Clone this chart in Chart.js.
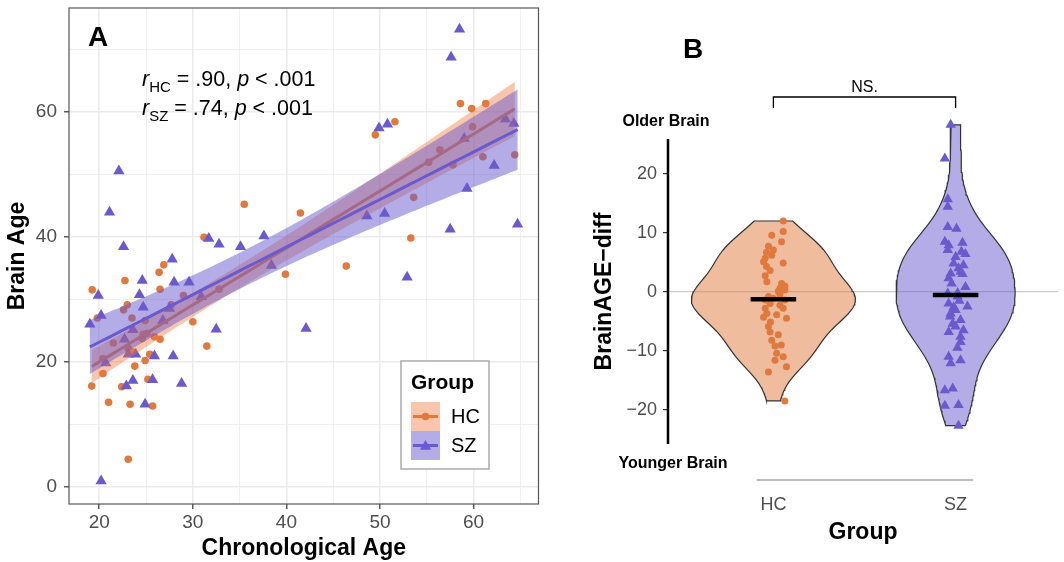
<!DOCTYPE html>
<html>
<head>
<meta charset="utf-8">
<script src="https://cdn.jsdelivr.net/npm/chart.js@4.4.1/dist/chart.umd.min.js"></script>
<style>
  html, body { margin: 0; padding: 0; background: #fff; }
  #wrap { position: relative; width: 1064px; height: 562px; }
  #boxA { position: absolute; left: 0; top: 0; }
  #boxB { position: absolute; left: 545px; top: 0; }
</style>
</head>
<body>
<div id="wrap">
  <div id="boxA"><canvas id="chartA" width="545" height="562"></canvas></div>
  <div id="boxB"><canvas id="chartB" width="519" height="562"></canvas></div>
</div>
<script>
// ---- data ----
const groups = ["HC", "SZ"];

// panel A: chronological age vs brain age
const hcAge = [19.25, 22.75, 26.9, 26.4, 26.5, 19.8, 23.0, 22.6, 23.5, 21.5, 30.0, 31.5, 26.5, 25.9, 24.6, 25.4, 24.9, 23.8, 20.4, 19.2,
  22.4, 25.2, 21.0, 23.3, 25.7, 23.1, 39.9, 46.4, 20.4, 29.0, 27.7, 32.8, 24.9, 23.1, 23.5, 35.5, 41.5, 31.2, 58.6, 59.8,
  61.3, 51.6, 49.5, 59.9, 56.4, 55.2, 57.8, 61.0, 64.4, 53.6, 53.3, 24.7, 25.1];
const hcBrainAge = [31.5, 33.0, 35.5, 34.3, 31.6, 27.0, 29.1, 28.3, 27.0, 23.0, 26.4, 22.5, 23.6, 24.0, 23.7, 21.2, 20.2, 19.3, 18.1, 16.1,
  16.0, 17.2, 13.5, 13.2, 12.9, 4.4, 34.0, 35.3, 20.5, 30.6, 29.1, 31.6, 26.6, 22.1, 21.6, 45.2, 43.8, 39.9, 61.3, 60.5,
  61.3, 58.4, 56.3, 57.6, 53.9, 51.9, 51.5, 52.8, 53.1, 46.3, 39.8, 24.4, 24.5];
const szAge = [22.1, 21.1, 22.6, 27.8, 31.7, 32.8, 35.1, 37.6, 38.4, 58.5, 57.6, 49.9, 50.8, 59.0, 63.4, 64.3, 62.2, 59.3, 48.6, 50.5,
  57.5, 64.7, 52.9, 19.9, 24.6, 28.0, 29.6, 24.3, 24.7, 19.0, 20.2, 32.5, 42.1, 23.1, 23.9, 25.9, 27.9, 20.7, 22.9, 23.6,
  25.7, 28.8, 24.9, 20.2, 23.6, 22.7, 26.8, 30.9, 27.5];
const szBrainAge = [50.5, 43.9, 38.4, 36.4, 39.7, 38.8, 38.4, 40.1, 35.4, 73.2, 68.7, 57.4, 58.0, 55.7, 58.8, 58.1, 51.4, 47.7, 43.3, 43.7,
  41.2, 42.0, 33.5, 30.6, 33.0, 32.7, 32.7, 30.7, 28.7, 26.0, 27.4, 25.2, 25.3, 21.2, 21.2, 20.9, 20.9, 19.8, 16.1, 17.0,
  17.1, 16.5, 13.2, 0.9, 25.1, 23.6, 26.6, 30.4, 28.5];

// panel B: BrainAGE-diff per group, with the horizontal jitter seen in the figure
const hcDiff = [12.0, 10.2, 9.6, 8.5, 7.7, 7.1, 6.2, 5.7, 5.1, 4.9, 3.6, 2.7, 1.7, 1.4, 1.0, 0.6, 0.3, -0.4, -0.8, -1.4,
  -1.4, -2.0, -2.3, -2.8, -2.8, -3.7, -3.9, -4.5, -4.3, -5.9, -6.8, -7.3, -8.2, -9.2, -10.4, -11.0, -11.6, -12.7, -13.6, -18.5,
  4.3, 0.1, -1.1, 6.7, -5.1, -9.0];
const hcJitter = [0.054, 0.054, -0.009, 0.045, -0.027, 0, -0.009, -0.045, -0.054, 0.054, -0.018, -0.045, -0.036, 0.045, 0.063, 0.036, 0.063, 0.036, -0.027, -0.045,
  0.063, -0.018, 0.036, -0.045, 0.054, -0.036, 0.018, 0.072, -0.054, -0.027, -0.018, 0.027, -0.009, 0.009, 0.018, 0.054, 0.009, 0.072, -0.027, 0.063,
  -0.038, 0.027, 0, -0.038, -0.016, 0.043];
const szDiff = [28.3, 22.6, 15.7, 14.4, 11.0, 10.7, 8.5, 8.3, 7.9, 7.1, 6.8, 6.4, 5.9, 4.8, 4.5, 4.0, 3.4, 3.1, 3.0, 2.3,
  1.4, 0.8, -0.2, -0.3, -0.8, -2.0, -2.5, -2.6, -3.1, -3.7, -4.8, -5.4, -5.9, -6.5, -6.8, -7.6, -8.5, -11.0, -11.6, -12.1,
  -16.7, -16.4, -19.3, -19.2, -22.7, -1.5, -4.2, -9.5];
const szJitter = [-0.027, -0.059, -0.043, -0.043, -0.043, 0.005, -0.059, 0.038, -0.038, -0.043, 0.032, 0.054, 0, -0.011, 0.043, 0.016, 0.027, -0.027, 0.038, -0.038,
  -0.022, 0.054, 0.011, -0.043, 0.011, -0.038, 0.065, -0.011, 0, -0.027, 0.027, -0.016, 0, 0.043, -0.038, 0.027, 0.027, -0.038, 0.027, -0.027,
  -0.059, -0.016, -0.059, 0.016, 0.016, 0.02, -0.03, 0.01];

// ticks / ranges
const xMajorA = [20, 30, 40, 50, 60];
const xMinorA = [25, 35, 45, 55, 65];
const yMajorA = [0, 20, 40, 60];
const yMinorA = [10, 30, 50, 70];
const yTicksB = [-20, -10, 0, 10, 20];
const yAxisLineB = [-25.8, 25.9];   // extent of the drawn y axis line in panel B
const yRangeB = [-25.8, 29.0];      // plotting range (violin of SZ pokes above the axis line)

const HC_COL = "#E0793E";
const SZ_COL = "#6A5ACD";
const FONT = '"Liberation Sans", Arial, Helvetica, sans-serif';
Chart.defaults.font.family = FONT;

// ---- helpers ----
const mean = a => a.reduce((s, v) => s + v, 0) / a.length;

function tQuant(df) {
  const z = 1.959964;
  return z + (z ** 3 + z) / (4 * df) + (5 * z ** 5 + 16 * z ** 3 + 3 * z) / (96 * df * df);
}

// linear fit with 95% confidence band (like geom_smooth(method = "lm"))
function lmFit(xs, ys) {
  const n = xs.length, mx = mean(xs), my = mean(ys);
  let sxx = 0, sxy = 0;
  xs.forEach((x, i) => { sxx += (x - mx) ** 2; sxy += (x - mx) * (ys[i] - my); });
  const b = sxy / sxx, a = my - b * mx;
  let sse = 0;
  xs.forEach((x, i) => { sse += (ys[i] - a - b * x) ** 2; });
  const s = Math.sqrt(sse / (n - 2)), t = tQuant(n - 2);
  const lo = Math.min(...xs), hi = Math.max(...xs);
  const line = [], upper = [], lower = [];
  for (let i = 0; i <= 80; i++) {
    const x = lo + (hi - lo) * i / 80, y = a + b * x;
    const se = s * Math.sqrt(1 / n + (x - mx) ** 2 / sxx);
    line.push({x, y});
    upper.push({x, y: y + t * se});
    lower.push({x, y: y - t * se});
  }
  return {line, band: upper.concat(lower.reverse())};
}

function quantile(sorted, p) {
  const h = (sorted.length - 1) * p, lo = Math.floor(h);
  return sorted[lo] + (h - lo) * ((sorted[lo + 1] ?? sorted[lo]) - sorted[lo]);
}

// gaussian kde, trimmed to the data range (like geom_violin)
function kde(vals) {
  const n = vals.length, m = mean(vals);
  const sd = Math.sqrt(vals.reduce((s, v) => s + (v - m) ** 2, 0) / (n - 1));
  const sorted = [...vals].sort((p, q) => p - q);
  const iqr = quantile(sorted, 0.75) - quantile(sorted, 0.25);
  const bw = 0.9 * Math.min(sd, iqr / 1.34) * Math.pow(n, -0.2);
  const lo = sorted[0], hi = sorted[n - 1], pts = [];
  for (let i = 0; i <= 120; i++) {
    const y = lo + (hi - lo) * i / 120;
    let d = 0;
    vals.forEach(v => { d += Math.exp(-0.5 * ((y - v) / bw) ** 2); });
    pts.push({y, d: d / (n * bw * Math.sqrt(2 * Math.PI))});
  }
  return {pts, median: quantile(sorted, 0.5)};
}

function violinShape(k, center, scale) {
  const right = k.pts.map(p => ({x: center + p.d * scale, y: p.y}));
  const left = k.pts.map(p => ({x: center - p.d * scale, y: p.y})).reverse();
  const shape = right.concat(left);
  shape.push(right[0]);
  return shape;
}

// keep the plot area exactly where the layout puts it
function fixPad(s) {
  s.paddingTop = 0; s.paddingBottom = 0; s.paddingLeft = 0; s.paddingRight = 0;
}

// ---- panel A ----
const hcPts = hcAge.map((x, i) => ({x, y: hcBrainAge[i]}));
const szPts = szAge.map((x, i) => ({x, y: szBrainAge[i]}));
const hcFit = lmFit(hcAge, hcBrainAge);
const szFit = lmFit(szAge, szBrainAge);

function richText(ctx, x, y, parts) {
  parts.forEach(p => {
    const size = p.sub ? 15 : 21.5;
    ctx.font = (p.italic ? "italic " : "") + size + "px " + FONT;
    ctx.fillText(p.t, x, y + (p.sub ? 6 : 0));
    x += ctx.measureText(p.t).width;
  });
}

function triangle(ctx, x, y, r) {
  ctx.beginPath();
  ctx.moveTo(x, y - r);
  ctx.lineTo(x + r * 0.866, y + r * 0.5);
  ctx.lineTo(x - r * 0.866, y + r * 0.5);
  ctx.closePath();
  ctx.fill();
}

const panelA = {
  id: "panelA",
  afterDraw(chart) {
    const {ctx, chartArea: ca} = chart;
    ctx.save();
    ctx.strokeStyle = "#555";
    ctx.lineWidth = 1.2;
    ctx.strokeRect(ca.left, ca.top, ca.right - ca.left, ca.bottom - ca.top);

    ctx.fillStyle = "#000";
    ctx.textBaseline = "middle";
    ctx.textAlign = "center";
    ctx.font = "bold 28px " + FONT;
    ctx.fillText("A", 98, 38);

    ctx.textAlign = "left";
    ctx.textBaseline = "alphabetic";
    richText(ctx, 142, 86, [{t: "r", italic: true}, {t: "HC", sub: true}, {t: " = .90, "}, {t: "p", italic: true}, {t: " < .001"}]);
    richText(ctx, 142, 115, [{t: "r", italic: true}, {t: "SZ", sub: true}, {t: " = .74, "}, {t: "p", italic: true}, {t: " < .001"}]);

    // legend
    ctx.fillStyle = "#fff";
    ctx.fillRect(401, 361, 88, 108);
    ctx.strokeStyle = "#AAAAAA";
    ctx.lineWidth = 1.5;
    ctx.strokeRect(401, 361, 88, 108);
    ctx.fillStyle = "#000";
    ctx.textBaseline = "middle";
    ctx.font = "bold 21px " + FONT;
    ctx.fillText("Group", 411, 383);
    const keys = [
      {label: groups[0], y: 402, fill: "rgba(240,120,60,0.42)", col: HC_COL, tri: false},
      {label: groups[1], y: 431, fill: "rgba(106,90,205,0.5)", col: SZ_COL, tri: true}
    ];
    keys.forEach(k => {
      ctx.fillStyle = k.fill;
      ctx.fillRect(411, k.y, 29, 29);
      ctx.strokeStyle = k.col;
      ctx.lineWidth = 3;
      ctx.beginPath();
      ctx.moveTo(413, k.y + 14.5);
      ctx.lineTo(438, k.y + 14.5);
      ctx.stroke();
      ctx.fillStyle = k.col;
      if (k.tri) triangle(ctx, 425.5, k.y + 15.5, 6.5);
      else { ctx.beginPath(); ctx.arc(425.5, k.y + 14.5, 3.8, 0, Math.PI * 2); ctx.fill(); }
      ctx.fillStyle = "#000";
      ctx.font = "20px " + FONT;
      ctx.fillText(k.label, 451, k.y + 15);
    });
    ctx.restore();
  }
};

const isMajorX = v => xMajorA.includes(v);
const isMajorY = v => yMajorA.includes(v);

new Chart(document.getElementById("chartA"), {
  type: "scatter",
  data: {
    datasets: [
      {label: groups[0], data: hcPts, pointStyle: "circle", pointRadius: 3.8, backgroundColor: HC_COL, borderWidth: 0, order: 7},
      {label: groups[1], data: szPts, pointStyle: "triangle", pointRadius: 6.5, backgroundColor: SZ_COL, borderWidth: 0, order: 6},
      {data: hcFit.band, showLine: true, fill: "shape", backgroundColor: "rgba(240,120,60,0.42)", borderWidth: 0, pointRadius: 0, order: 5},
      {data: hcFit.line, showLine: true, borderColor: HC_COL, borderWidth: 3, pointRadius: 0, fill: false, order: 4},
      {data: szFit.band, showLine: true, fill: "shape", backgroundColor: "rgba(106,90,205,0.5)", borderWidth: 0, pointRadius: 0, order: 3},
      {data: szFit.line, showLine: true, borderColor: SZ_COL, borderWidth: 3, pointRadius: 0, fill: false, order: 2}
    ]
  },
  options: {
    responsive: false,
    animation: false,
    events: [],
    layout: {padding: {top: 8, right: 6, left: 0, bottom: 0}},
    plugins: {legend: {display: false}, tooltip: {enabled: false}},
    scales: {
      x: {
        type: "linear", min: 16.77, max: 66.94,
        afterBuildTicks: s => { s.ticks = xMajorA.concat(xMinorA).sort((a, b) => a - b).map(v => ({value: v})); },
        afterFit: s => { s.height = 58; fixPad(s); },
        border: {display: false},
        grid: {
          color: "#EBEBEB",
          lineWidth: c => isMajorX(c.tick.value) ? 1.6 : 0.8,
          tickColor: c => isMajorX(c.tick.value) ? "#333" : "rgba(0,0,0,0)",
          tickLength: 5, tickWidth: 1.2
        },
        ticks: {autoSkip: false, maxRotation: 0, padding: 2, color: "#4D4D4D", font: {size: 19},
          callback: v => isMajorX(v) ? String(v) : ""},
        title: {display: true, text: "Chronological Age", color: "#000", font: {size: 23, weight: "bold"}, padding: {top: 0, bottom: 0}}
      },
      y: {
        type: "linear", min: -2.77, max: 76.6,
        afterBuildTicks: s => { s.ticks = yMajorA.concat(yMinorA).sort((a, b) => a - b).map(v => ({value: v})); },
        afterFit: s => { s.width = 69; fixPad(s); },
        border: {display: false},
        grid: {
          color: "#EBEBEB",
          lineWidth: c => isMajorY(c.tick.value) ? 1.6 : 0.8,
          tickColor: c => isMajorY(c.tick.value) ? "#333" : "rgba(0,0,0,0)",
          tickLength: 5, tickWidth: 1.2
        },
        ticks: {autoSkip: false, padding: 7, color: "#4D4D4D", font: {size: 19},
          callback: v => isMajorY(v) ? String(v) : ""},
        title: {display: true, text: "Brain Age", color: "#000", font: {size: 23, weight: "bold"}, padding: {top: 4, bottom: 0}}
      }
    }
  },
  plugins: [panelA]
});

// ---- panel B ----
const hcK = kde(hcDiff);
const szK = kde(szDiff);
const maxD = Math.max(...hcK.pts.map(p => p.d), ...szK.pts.map(p => p.d));
const vScale = 0.45 / maxD;
const hcViolin = violinShape(hcK, 1, vScale);
const szViolin = violinShape(szK, 2, vScale);
const hcDots = hcDiff.map((y, i) => ({x: 1 + hcJitter[i], y}));
const szDots = szDiff.map((y, i) => ({x: 2 + szJitter[i], y}));
const medLine = (c, m) => [{x: c - 0.125, y: m}, {x: c + 0.125, y: m}];

// plot area of panel B: axis line from y=139 to y=444 px
const pxPerUnitB = (444 - 139) / (yAxisLineB[1] - yAxisLineB[0]);
const topPadB = 444 - (yRangeB[1] - yRangeB[0]) * pxPerUnitB;

const panelB = {
  id: "panelB",
  beforeDatasetsDraw(chart) {
    const {ctx, chartArea: ca, scales} = chart;
    const yTop = scales.y.getPixelForValue(yAxisLineB[1]);
    const yBot = scales.y.getPixelForValue(yAxisLineB[0]);
    ctx.save();
    ctx.strokeStyle = "#000";
    ctx.lineWidth = 2.5;
    ctx.beginPath();
    ctx.moveTo(ca.left, yTop);
    ctx.lineTo(ca.left, yBot);
    ctx.stroke();

    // y title, centred on the drawn axis line
    ctx.translate(60, (yTop + yBot) / 2);
    ctx.rotate(-Math.PI / 2);
    ctx.fillStyle = "#000";
    ctx.textAlign = "center";
    ctx.textBaseline = "middle";
    ctx.font = "bold 23px " + FONT;
    ctx.fillText("BrainAGE\u2212diff", 0, 0);
    ctx.restore();
  },
  afterDraw(chart) {
    const {ctx, chartArea: ca, scales} = chart;
    const x1 = scales.x.getPixelForValue(1), x2 = scales.x.getPixelForValue(2);
    ctx.save();
    ctx.fillStyle = "#000";
    ctx.textBaseline = "middle";
    ctx.textAlign = "center";
    ctx.font = "bold 28px " + FONT;
    ctx.fillText("B", 148, 50);

    // significance bracket
    ctx.strokeStyle = "#000";
    ctx.lineWidth = 1.3;
    ctx.beginPath();
    ctx.moveTo(x1, 108); ctx.lineTo(x1, 97); ctx.lineTo(x2, 97); ctx.lineTo(x2, 108);
    ctx.stroke();
    ctx.font = "16px " + FONT;
    ctx.fillText("NS.", (x1 + x2) / 2, 88);

    ctx.font = "bold 16px " + FONT;
    ctx.fillText("Older Brain", ca.left - 2, 122);
    ctx.fillText("Younger Brain", ca.left + 5, 464);

    // x baseline segment
    ctx.strokeStyle = "#BDBDBD";
    ctx.lineWidth = 2;
    ctx.beginPath();
    ctx.moveTo(scales.x.getPixelForValue(0.908), ca.bottom + 36);
    ctx.lineTo(scales.x.getPixelForValue(2.097), ca.bottom + 36);
    ctx.stroke();
    ctx.restore();
  }
};

new Chart(document.getElementById("chartB"), {
  type: "scatter",
  data: {
    datasets: [
      {data: hcViolin, showLine: true, fill: "shape", backgroundColor: "rgba(224,121,62,0.5)", borderColor: "#333", borderWidth: 1.2, pointRadius: 0, clip: false, order: 10},
      {data: szViolin, showLine: true, fill: "shape", backgroundColor: "rgba(106,90,205,0.5)", borderColor: "#333", borderWidth: 1.2, pointRadius: 0, clip: false, order: 9},
      {label: groups[0], data: hcDots, pointStyle: "circle", pointRadius: 3.5, backgroundColor: HC_COL, borderWidth: 0, clip: false, order: 8},
      {label: groups[1], data: szDots, pointStyle: "triangle", pointRadius: 6, backgroundColor: SZ_COL, borderWidth: 0, clip: false, order: 7},
      {data: medLine(1, hcK.median), showLine: true, borderColor: "#000", borderWidth: 4.5, pointRadius: 0, order: 2},
      {data: medLine(2, szK.median), showLine: true, borderColor: "#000", borderWidth: 4.5, pointRadius: 0, order: 1}
    ]
  },
  options: {
    responsive: false,
    animation: false,
    events: [],
    layout: {padding: {top: topPadB, right: 0, left: 0, bottom: 0}},
    plugins: {legend: {display: false}, tooltip: {enabled: false}},
    scales: {
      x: {
        type: "linear", min: 0.4216, max: 2.562,
        afterBuildTicks: s => { s.ticks = groups.map((g, i) => ({value: i + 1})); },
        afterFit: s => { s.height = 118; fixPad(s); },
        border: {display: false},
        grid: {display: false, drawTicks: false},
        ticks: {padding: 50, color: "#4D4D4D", font: {size: 18}, callback: v => groups[v - 1]},
        title: {display: true, text: "Group", color: "#000", font: {size: 23, weight: "bold"}, padding: {top: 0, bottom: 16}}
      },
      y: {
        type: "linear", min: yRangeB[0], max: yRangeB[1],
        afterBuildTicks: s => { s.ticks = yTicksB.map(v => ({value: v})); },
        afterFit: s => { s.width = 123; fixPad(s); },
        border: {display: false},
        grid: {
          color: c => c.tick && c.tick.value === 0 ? "#CCCCCC" : "rgba(0,0,0,0)",
          lineWidth: 1.2, tickColor: "#333", tickLength: 5, tickWidth: 1.2
        },
        ticks: {padding: 6, color: "#4D4D4D", font: {size: 18}, callback: v => v < 0 ? "\u2212" + Math.abs(v) : String(v)},
        title: {display: false}
      }
    }
  },
  plugins: [panelB]
});
</script>
</body>
</html>
